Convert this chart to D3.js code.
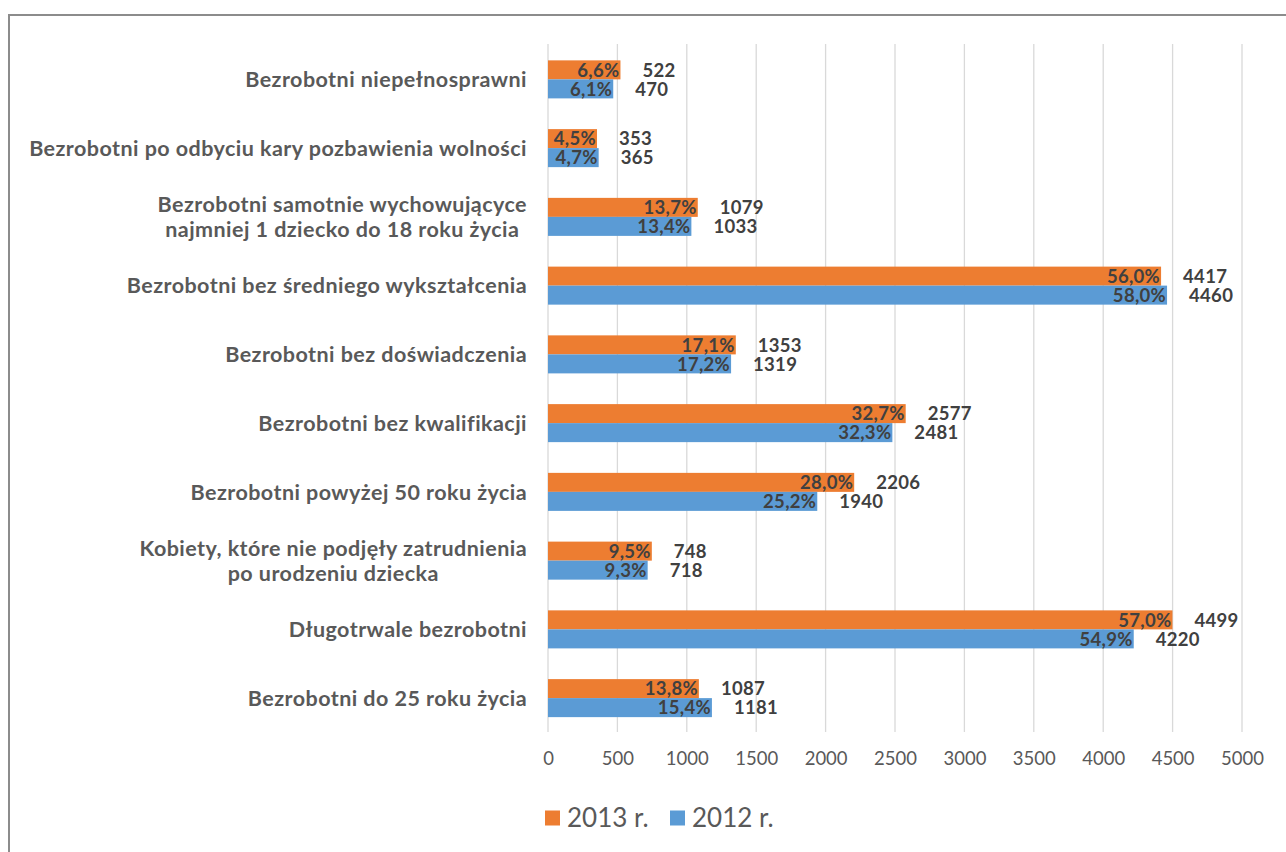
<!DOCTYPE html>
<html>
<head>
<meta charset="utf-8">
<script src="https://cdn.jsdelivr.net/npm/d3@7"></script>
<style>
  body { margin: 0; background: #fff; }
  text { font-family: Lato, "Liberation Sans", sans-serif; }
</style>
</head>
<body>
<div id="chart"></div>
<script>

// categories, top to bottom
var categories = [
    ['Bezrobotni niepełnosprawni'],
    ['Bezrobotni po odbyciu kary pozbawienia wolności'],
    ['Bezrobotni samotnie wychowującyce', 'najmniej 1 dziecko do 18 roku życia '],
    ['Bezrobotni bez średniego wykształcenia'],
    ['Bezrobotni bez doświadczenia'],
    ['Bezrobotni bez kwalifikacji'],
    ['Bezrobotni powyżej 50 roku życia'],
    ['Kobiety, które nie podjęły zatrudnienia', 'po urodzeniu dziecka'],
    ['Długotrwale bezrobotni'],
    ['Bezrobotni do 25 roku życia']
];
var seriesNames = ['2013 r.', '2012 r.'];
var values2013 = [522, 353, 1079, 4417, 1353, 2577, 2206, 748, 4499, 1087];
var values2012 = [470, 365, 1033, 4460, 1319, 2481, 1940, 718, 4220, 1181];
var percent2013 = ['6,6%', '4,5%', '13,7%', '56,0%', '17,1%', '32,7%', '28,0%', '9,5%', '57,0%', '13,8%'];
var percent2012 = ['6,1%', '4,7%', '13,4%', '58,0%', '17,2%', '32,3%', '25,2%', '9,3%', '54,9%', '15,4%'];
var xTicks = [0, 500, 1000, 1500, 2000, 2500, 3000, 3500, 4000, 4500, 5000];

var width = 1286, height = 852;
var colors = ['#ED7D31', '#5B9BD5'];

var svg = d3.select('#chart')
    .append('svg')
    .attr('width', width)
    .attr('height', height);

// frame of the chart area
svg.append('rect')
    .attr('x', 9).attr('y', 15)
    .attr('width', width + 20).attr('height', height + 20)
    .attr('fill', 'none')
    .attr('stroke', '#8c8c8c')
    .attr('stroke-width', 2);

var x = d3.scaleLinear().domain([0, 5000]).range([548, 1242]);
var y = d3.scaleBand()
    .domain(d3.range(categories.length))
    .range([45, 732.5])
    .paddingInner(0.447)
    .paddingOuter(0.2235);
var ySub = d3.scaleBand().domain([0, 1]).range([0, y.bandwidth()]);

// gridlines
svg.append('g')
    .selectAll('line')
    .data(xTicks)
    .enter()
    .append('line')
    .attr('x1', d => x(d)).attr('x2', d => x(d))
    .attr('y1', 44).attr('y2', 732)
    .attr('stroke', '#d9d9d9')
    .attr('stroke-width', 1.3);

// x axis labels
var xAxis = svg.append('g')
    .attr('transform', 'translate(0,752)')
    .call(d3.axisBottom(x).tickValues(xTicks).tickFormat(d3.format('d')).tickSize(0).tickPadding(0));
xAxis.select('.domain').remove();
xAxis.selectAll('text')
    .attr('dy', '0.72em')
    .style('font-family', 'Lato, sans-serif')
    .style('font-size', '18.5px')
    .attr('fill', '#595959');

// rows
var rows = categories.map(function (c, i) {
    return {
        index: i,
        label: c,
        bars: [
            { s: 0, value: values2013[i], pct: percent2013[i] },
            { s: 1, value: values2012[i], pct: percent2012[i] }
        ]
    };
});

var groups = svg.selectAll('.row')
    .data(rows)
    .enter()
    .append('g')
    .attr('class', 'row')
    .attr('transform', d => 'translate(0,' + y(d.index) + ')');

groups.selectAll('rect')
    .data(d => d.bars)
    .enter()
    .append('rect')
    .attr('x', x(0))
    .attr('y', d => ySub(d.s))
    .attr('width', d => x(d.value) - x(0))
    .attr('height', ySub.bandwidth())
    .attr('fill', d => colors[d.s]);

// percentage labels inside the bar end
groups.selectAll('.pct')
    .data(d => d.bars)
    .enter()
    .append('text')
    .attr('class', 'pct')
    .attr('x', d => x(d.value) - 1)
    .attr('y', d => ySub(d.s) + ySub.bandwidth() / 2)
    .attr('dy', '0.36em')
    .attr('text-anchor', 'end')
    .style('font-size', '18.5px')
    .style('font-weight', 'bold')
    .style('letter-spacing', '0.3px')
    .attr('fill', '#404040')
    .text(d => d.pct);

// count labels after the bar
groups.selectAll('.val')
    .data(d => d.bars)
    .enter()
    .append('text')
    .attr('class', 'val')
    .attr('x', d => x(d.value) + 22)
    .attr('y', d => ySub(d.s) + ySub.bandwidth() / 2)
    .attr('dy', '0.36em')
    .style('font-size', '18.5px')
    .style('font-weight', 'bold')
    .style('letter-spacing', '0.3px')
    .attr('fill', '#404040')
    .text(d => d.value);

// category labels, lines centred on each other, block right aligned
var labelRight = 527;
var lineHeight = 25;
groups.each(function (d) {
    var g = d3.select(this);
    var cy = y.bandwidth() / 2;
    var texts = g.selectAll('.cat')
        .data(d.label)
        .enter()
        .append('text')
        .attr('class', 'cat')
        .attr('y', (t, k) => cy + (k - (d.label.length - 1) / 2) * lineHeight)
        .attr('dy', '0.36em')
        .attr('text-anchor', 'middle')
        .style('font-size', '21.5px')
        .style('font-weight', 'bold')
        .style('letter-spacing', '0.45px')
        .attr('fill', '#595959')
        .text(t => t);
    var maxW = d3.max(texts.nodes(), n => n.getComputedTextLength());
    texts.attr('x', labelRight - maxW / 2);
});

// legend
var legend = svg.append('g').attr('transform', 'translate(545,818)');
var items = legend.selectAll('g')
    .data(seriesNames)
    .enter()
    .append('g')
    .attr('transform', (d, i) => 'translate(' + (i * 125) + ',0)');
items.append('rect')
    .attr('x', 0).attr('y', -7.5)
    .attr('width', 15).attr('height', 15)
    .attr('fill', (d, i) => colors[i]);
items.append('text')
    .attr('x', 22)
    .attr('dy', '0.36em')
    .style('font-size', '26px')
    .attr('fill', '#595959')
    .text(d => d);
</script>
</body>
</html>
